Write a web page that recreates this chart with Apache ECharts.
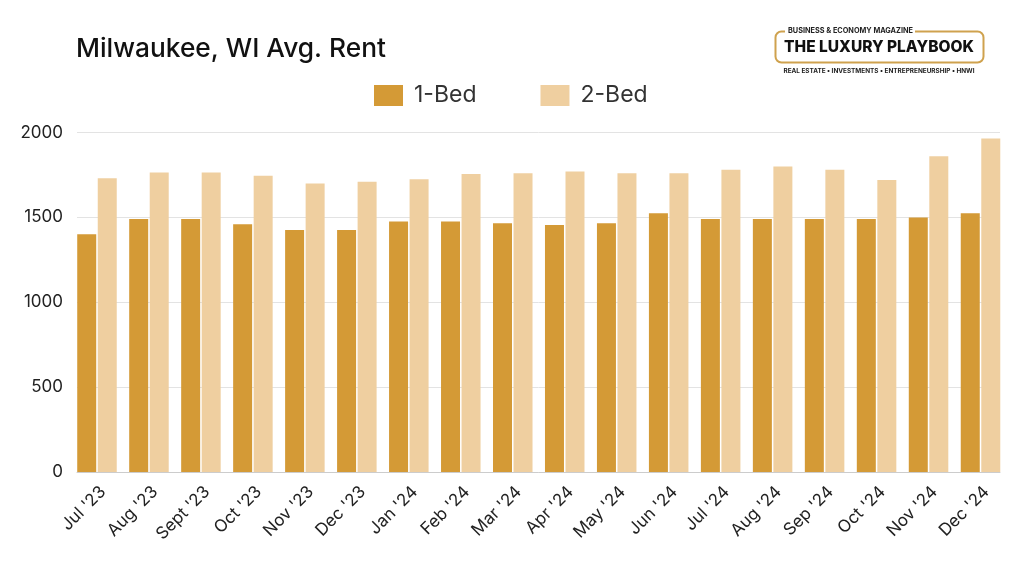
<!DOCTYPE html>
<html><head><meta charset="utf-8">
<style>html,body{margin:0;padding:0;background:#fff}#c{width:1024px;height:576px}</style>
<script src="https://cdn.jsdelivr.net/npm/echarts@6/dist/echarts.min.js"></script>
</head><body><div id="c"></div>
<script>
const categories = ["Jul '23","Aug '23","Sept '23","Oct '23","Nov '23","Dec '23","Jan '24","Feb '24","Mar '24","Apr '24","May '24","Jun '24","Jul '24","Aug '24","Sep '24","Oct '24","Nov '24","Dec '24"];
const oneBed = [1400,1490,1490,1460,1425,1425,1475,1475,1465,1455,1465,1525,1490,1490,1490,1490,1500,1525];
const twoBed = [1730,1765,1765,1745,1700,1710,1725,1755,1760,1770,1760,1760,1780,1800,1780,1720,1860,1965];
const FONT = 'Inter, "Open Sans", sans-serif';
const chart = echarts.init(document.getElementById('c'), null, {renderer:'canvas'});
chart.setOption({
  animation:false,
  backgroundColor:'#fff',
  textStyle:{fontFamily:FONT},
  title:{text:'Milwaukee, WI Avg. Rent',left:76,top:36,padding:0,textStyle:{fontFamily:FONT,fontSize:26.3,fontWeight:500,color:'#111'}},
  legend:{left:369,top:79,itemWidth:29,itemHeight:21,itemGap:64,icon:'rect',
    textStyle:{fontFamily:FONT,fontSize:23,color:'#333',padding:[0,0,0,6]},data:['1-Bed','2-Bed']},
  grid:[
    {left:71,right:17.5,top:132.5,bottom:104},
    {left:77,right:24,top:132.5,bottom:104}
  ],
  xAxis:[
    {type:'category',gridIndex:0,data:categories,axisLine:{show:false},axisTick:{show:false},
     axisLabel:{interval:0,rotate:45,fontSize:17,color:'#222',fontFamily:FONT,margin:11,verticalAlign:'top'}},
    {type:'category',gridIndex:1,data:[''],axisLine:{show:true,lineStyle:{color:'#ccc',width:1}},axisTick:{show:false},axisLabel:{show:false}}
  ],
  yAxis:[
    {type:'value',gridIndex:0,min:0,max:2000,interval:500,show:false},
    {type:'value',gridIndex:1,min:0,max:2000,interval:500,axisLine:{show:false},axisTick:{show:false},
     axisLabel:{fontSize:17,color:'#222',fontFamily:FONT,margin:14,padding:[4,0,0,0],formatter:function(v){return String(v);}},
     splitLine:{lineStyle:{color:'#e3e3e3',width:1}}}
  ],
  series:[
    {name:'1-Bed',type:'bar',xAxisIndex:0,yAxisIndex:0,data:oneBed,barWidth:19,barGap:'8%',itemStyle:{color:'#D49A36'},z:3},
    {name:'2-Bed',type:'bar',xAxisIndex:0,yAxisIndex:0,data:twoBed,barWidth:19,barGap:'8%',itemStyle:{color:'#EFCFA0'},z:3}
  ],
  graphic:[
    {type:'rect',shape:{x:775.5,y:31.5,width:208,height:31,r:6},style:{fill:'#fff',stroke:'#CFA24E',lineWidth:2},z:10},
    {type:'rect',shape:{x:785,y:26,width:130,height:10},style:{fill:'#fff'},z:11},
    {type:'text',style:{x:788,y:31,text:'BUSINESS & ECONOMY MAGAZINE',font:'700 7.3px '+FONT,fill:'#222',textVerticalAlign:'middle'},z:12},
    {type:'text',style:{x:879,y:47,text:'THE LUXURY PLAYBOOK',font:'800 15.5px '+FONT,fill:'#111',textAlign:'center',textVerticalAlign:'middle'},z:12},
    {type:'text',style:{x:879,y:71,text:'REAL ESTATE • INVESTMENTS • ENTREPRENEURSHIP • HNWI',font:'700 6.4px '+FONT,fill:'#222',textAlign:'center',textVerticalAlign:'middle'},z:12}
  ]
});
</script></body></html>
